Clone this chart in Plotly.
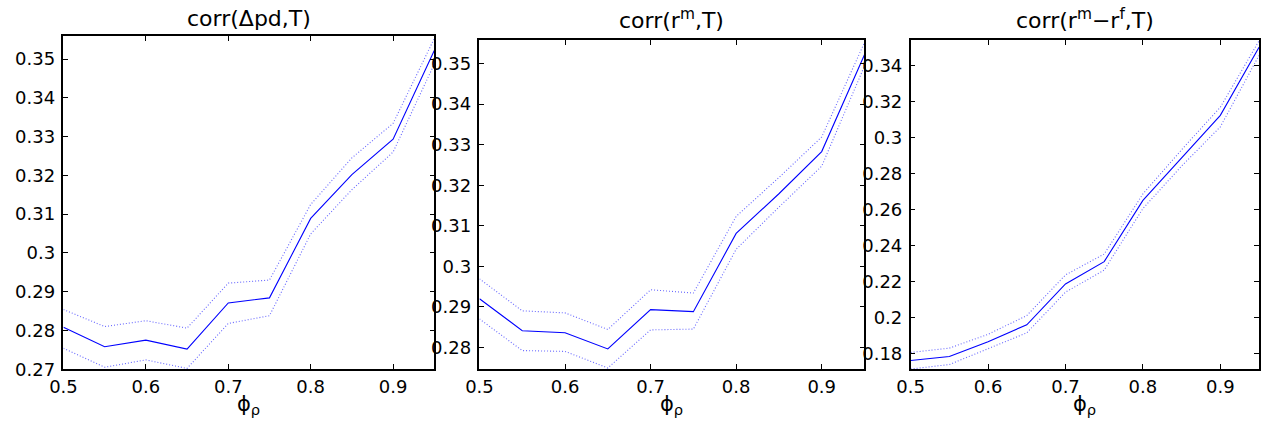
import plotly.graph_objects as go

phi = [0.5, 0.55, 0.6, 0.65, 0.7, 0.75, 0.8, 0.85, 0.9, 0.95]

# corr(Δpd,T)
dpd_mean = [0.2808, 0.2758, 0.2775, 0.2752, 0.2871, 0.2884, 0.3089, 0.3202, 0.3293, 0.3522]
dpd_upper = [0.2854, 0.2810, 0.2825, 0.2806, 0.2922, 0.2930, 0.3125, 0.3245, 0.3334, 0.3553]
dpd_lower = [0.2754, 0.2705, 0.2724, 0.2702, 0.2818, 0.2838, 0.3049, 0.3163, 0.3260, 0.3487]

# corr(r^m,T)
rm_mean = [0.2920, 0.2841, 0.2836, 0.2796, 0.2893, 0.2888, 0.3081, 0.3179, 0.3283, 0.3522]
rm_upper = [0.2969, 0.2890, 0.2885, 0.2844, 0.2942, 0.2934, 0.3123, 0.3219, 0.3319, 0.3552]
rm_lower = [0.2870, 0.2792, 0.2790, 0.2749, 0.2843, 0.2845, 0.3042, 0.3146, 0.3247, 0.3494]

# corr(r^m - r^f,T)
rx_mean = [0.1759, 0.1782, 0.1864, 0.1958, 0.2185, 0.2309, 0.2649, 0.2885, 0.3122, 0.3500]
rx_upper = [0.1804, 0.1828, 0.1905, 0.2009, 0.2235, 0.2351, 0.2685, 0.2931, 0.3167, 0.3536]
rx_lower = [0.1712, 0.1737, 0.1825, 0.1913, 0.2139, 0.2262, 0.2604, 0.2840, 0.3058, 0.3455]

titles = ["corr(Δpd,T)", "corr(r<sup>m</sup>,T)", "corr(r<sup>m</sup>−r<sup>f</sup>,T)"]
y_ranges = [[0.27, 0.3559], [0.2746, 0.3559], [0.1711, 0.3542]]
y_dticks = [0.01, 0.01, 0.02]
x_ticks = [0.5, 0.6, 0.7, 0.8, 0.9]
x_tick_labels = ["0.5", "0.6", "0.7", "0.8", "0.9"]

W, H = 1263, 430
x_domains_px = [(50, 425), (470.7, 860), (906.7, 1259)]
y_top_px = [37, 40.7, 40.7]
y_bot_px = 378

series = [
    (dpd_mean, dpd_upper, dpd_lower),
    (rm_mean, rm_upper, rm_lower),
    (rx_mean, rx_upper, rx_lower),
]

fig = go.Figure()
FONT = "DejaVu Sans"
annotations = []
layout_axes = {}
for i, (m, u, l) in enumerate(series):
    xa = "x" if i == 0 else f"x{i+1}"
    ya = "y" if i == 0 else f"y{i+1}"
    for vals, dash, col in [(u, "1px,2px", "rgba(40,40,255,0.7)"),
                            (l, "1px,2px", "rgba(40,40,255,0.7)"),
                            (m, "solid", "#0000ff")]:
        fig.add_trace(go.Scatter(x=phi, y=vals, mode="lines", xaxis=xa, yaxis=ya,
                                 line=dict(color=col, width=1.1, dash=dash), showlegend=False,
                                 hoverinfo="skip"))
    x0, x1 = x_domains_px[i]
    dom_x = [x0 / W, x1 / W]
    dom_y = [(H - y_bot_px) / H, (H - y_top_px[i]) / H]
    axis_common = dict(showline=True, linecolor="black", linewidth=1.5, mirror="ticks",
                       ticks="inside", ticklen=5, tickcolor="black", tickwidth=1,
                       showgrid=False, zeroline=False,
                       tickfont=dict(family=FONT, size=18, color="black"))
    xkey = "xaxis" if i == 0 else f"xaxis{i+1}"
    ykey = "yaxis" if i == 0 else f"yaxis{i+1}"
    layout_axes[xkey] = dict(axis_common, domain=dom_x, range=[0.5, 0.95], anchor=ya,
                             tickvals=x_ticks, ticktext=x_tick_labels, ticklabelstandoff=0)
    layout_axes[ykey] = dict(axis_common, domain=dom_y, range=y_ranges[i], anchor=xa,
                             dtick=y_dticks[i], tick0=0, ticklabelstandoff=3)
    cx = (x0 + x1) / 2 / W
    annotations.append(dict(text=titles[i], x=cx, y=1 - 19 / H, xref="paper", yref="paper",
                            xanchor="center", yanchor="middle", showarrow=False,
                            font=dict(family=FONT, size=22, color="black")))
    annotations.append(dict(text="ϕ<sub>ρ</sub>", x=cx, y=0, xref="paper", yref="paper",
                            xanchor="center", yanchor="bottom", showarrow=False,
                            font=dict(family=FONT, size=21, color="black")))

fig.update_layout(width=W, height=H, margin=dict(l=0, r=0, t=0, b=0),
                  paper_bgcolor="white", plot_bgcolor="white",
                  annotations=annotations, **layout_axes)

fig.write_html("out.html")
